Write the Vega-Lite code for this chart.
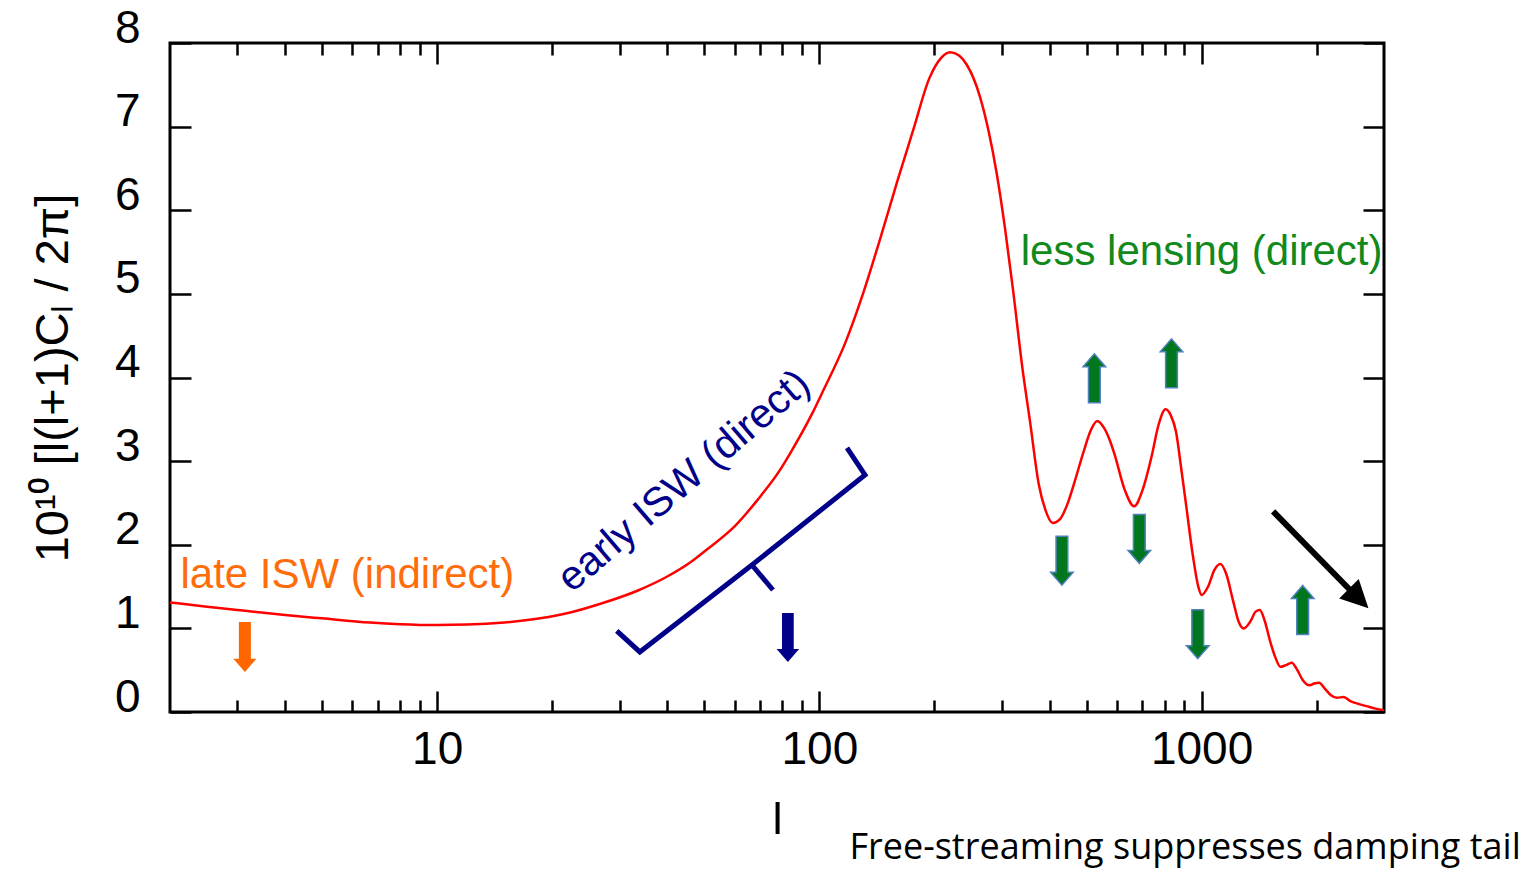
{
  "$schema": "https://vega.github.io/schema/vega-lite/v6.json",
  "width": 1214,
  "height": 669,
  "autosize": {"type": "none"},
  "padding": {"left": 170, "top": 43, "right": 153, "bottom": 160},
  "background": "white",
  "config": {
    "view": {"stroke": "black", "strokeWidth": 3},
    "axis": {"grid": false, "domain": false, "labelFont": "Liberation Sans", "titleFont": "Liberation Sans", "tickColor": "black", "labelColor": "black", "titleColor": "black", "tickWidth": 2.5, "titleFontWeight": "normal"}
  },
  "layer": [
    {
      "data": {"values": [
        {"l": 2, "v": 1.31}, {"l": 2.5, "v": 1.26}, {"l": 3, "v": 1.22}, {"l": 4, "v": 1.16}, {"l": 5, "v": 1.12},
        {"l": 6.67, "v": 1.07}, {"l": 8, "v": 1.05}, {"l": 10, "v": 1.04}, {"l": 12, "v": 1.045}, {"l": 15, "v": 1.07},
        {"l": 18.6, "v": 1.12}, {"l": 22.3, "v": 1.19}, {"l": 27, "v": 1.3}, {"l": 33.4, "v": 1.45}, {"l": 40, "v": 1.62},
        {"l": 46, "v": 1.79}, {"l": 51, "v": 1.95}, {"l": 60, "v": 2.22}, {"l": 69, "v": 2.54}, {"l": 78.5, "v": 2.88},
        {"l": 84, "v": 3.1}, {"l": 96, "v": 3.58}, {"l": 102, "v": 3.83}, {"l": 117, "v": 4.42}, {"l": 130, "v": 5.0},
        {"l": 144, "v": 5.65}, {"l": 160, "v": 6.35}, {"l": 176, "v": 6.96}, {"l": 194, "v": 7.58}, {"l": 208, "v": 7.82},
        {"l": 220, "v": 7.89}, {"l": 232, "v": 7.85}, {"l": 243, "v": 7.74}, {"l": 263, "v": 7.36}, {"l": 277, "v": 6.95},
        {"l": 291, "v": 6.44}, {"l": 306, "v": 5.78}, {"l": 321, "v": 5.05}, {"l": 340, "v": 4.1}, {"l": 356, "v": 3.46},
        {"l": 375, "v": 2.72}, {"l": 390, "v": 2.42}, {"l": 408, "v": 2.26}, {"l": 425, "v": 2.3}, {"l": 445, "v": 2.48},
        {"l": 465, "v": 2.75}, {"l": 491, "v": 3.11}, {"l": 512, "v": 3.36}, {"l": 533, "v": 3.48}, {"l": 555, "v": 3.4},
        {"l": 575, "v": 3.25}, {"l": 591, "v": 3.09}, {"l": 630, "v": 2.65}, {"l": 666, "v": 2.46}, {"l": 700, "v": 2.65},
        {"l": 741, "v": 3.07}, {"l": 770, "v": 3.42}, {"l": 805, "v": 3.62}, {"l": 830, "v": 3.55}, {"l": 857, "v": 3.35},
        {"l": 885, "v": 2.9}, {"l": 911, "v": 2.47}, {"l": 950, "v": 1.85}, {"l": 980, "v": 1.5}, {"l": 1000, "v": 1.4},
        {"l": 1040, "v": 1.5}, {"l": 1080, "v": 1.7}, {"l": 1120, "v": 1.77}, {"l": 1160, "v": 1.65}, {"l": 1210, "v": 1.32},
        {"l": 1250, "v": 1.08}, {"l": 1289, "v": 1.0}, {"l": 1340, "v": 1.08}, {"l": 1385, "v": 1.2}, {"l": 1420, "v": 1.22},
        {"l": 1460, "v": 1.1}, {"l": 1510, "v": 0.85}, {"l": 1560, "v": 0.65}, {"l": 1607, "v": 0.54}, {"l": 1660, "v": 0.56},
        {"l": 1721, "v": 0.59}, {"l": 1780, "v": 0.5}, {"l": 1840, "v": 0.38}, {"l": 1915, "v": 0.32}, {"l": 1970, "v": 0.34},
        {"l": 2029, "v": 0.35}, {"l": 2100, "v": 0.28}, {"l": 2180, "v": 0.2}, {"l": 2258, "v": 0.17}, {"l": 2353, "v": 0.18},
        {"l": 2450, "v": 0.13}, {"l": 2558, "v": 0.1}, {"l": 2700, "v": 0.07}, {"l": 2850, "v": 0.04}, {"l": 3000, "v": 0.02}
      ]},
      "mark": {"type": "line", "color": "#FF0000", "strokeWidth": 2.5, "interpolate": "monotone"},
      "encoding": {
        "x": {"field": "l", "type": "quantitative", "scale": {"type": "log", "domain": [2, 3000], "nice": false},
          "axis": {"orient": "bottom", "values": [10, 100, 1000], "format": "d", "ticks": false, "labelFontSize": 46, "labelPadding": 15, "title": "l", "titleFontSize": 45, "titleY": 121, "titleBaseline": "alphabetic"}},
        "y": {"field": "v", "type": "quantitative", "scale": {"domain": [0, 8], "nice": false},
          "axis": {"orient": "left", "values": [0, 1, 2, 3, 4, 5, 6, 7, 8], "format": "d", "ticks": false, "labelFontSize": 46, "labelPadding": 30, "labelOffset": -15, "title": "10¹⁰ [l(l+1)Cₗ / 2π]", "titleFontSize": 47, "titleX": -103, "titleBaseline": "alphabetic"}}
      }
    },
    {
      "data": {"values": [{"l": 3.14, "v": 0.778}]},
      "mark": {"type": "point", "shape": "M-0.24,-1L0.24,-1L0.24,0.47L0.46,0.47L0,1L-0.46,0.47L-0.24,0.47Z", "size": 2500, "filled": true, "fill": "#FF6600", "opacity": 1, "strokeWidth": 0},
      "encoding": {
        "x": {"field": "l", "type": "quantitative", "axis": {"orient": "bottom", "values": [10, 100, 1000], "tickSize": -21, "labels": false, "title": null}},
        "y": {"field": "v", "type": "quantitative", "axis": {"orient": "left", "values": [0, 1, 2, 3, 4, 5, 6, 7, 8], "tickSize": -21, "labels": false, "title": null}}
      }
    },
    {
      "data": {"values": [{"l": 5.82, "v": 1.48, "label": "late ISW (indirect)"}]},
      "mark": {"type": "text", "font": "Liberation Sans", "fontSize": 42, "color": "#FF6D0A", "align": "center", "baseline": "alphabetic"},
      "encoding": {
        "x": {"field": "l", "type": "quantitative", "axis": {"orient": "bottom", "values": [3, 4, 5, 6, 7, 8, 9, 20, 30, 40, 50, 60, 70, 80, 90, 200, 300, 400, 500, 600, 700, 800, 900, 2000], "tickSize": -12, "labels": false, "title": null}},
        "y": {"field": "v", "type": "quantitative", "axis": {"orient": "right", "values": [0, 1, 2, 3, 4, 5, 6, 7, 8], "tickSize": -21, "labels": false, "title": null}},
        "text": {"field": "label"}
      }
    },
    {
      "data": {"values": [{"l": 44.3, "v": 2.757, "label": "early ISW (direct)"}]},
      "mark": {"type": "text", "font": "Liberation Sans", "fontSize": 41, "color": "#000088", "align": "center", "baseline": "middle", "angle": 319.4},
      "encoding": {
        "x": {"field": "l", "type": "quantitative", "axis": {"orient": "top", "values": [10, 100, 1000], "tickSize": -21, "labels": false, "title": null}},
        "y": {"field": "v", "type": "quantitative", "axis": null},
        "text": {"field": "label"}
      }
    },
    {
      "data": {"values": [
        {"seg": "a", "i": 1, "l": 29.5, "v": 0.969},
        {"seg": "a", "i": 2, "l": 33.9, "v": 0.718},
        {"seg": "a", "i": 3, "l": 66.6, "v": 1.758},
        {"seg": "a", "i": 4, "l": 131.6, "v": 2.835},
        {"seg": "a", "i": 5, "l": 118.1, "v": 3.158},
        {"seg": "b", "i": 1, "l": 66.6, "v": 1.758},
        {"seg": "b", "i": 2, "l": 75.6, "v": 1.459}
      ]},
      "mark": {"type": "line", "color": "#000088", "strokeWidth": 5, "strokeJoin": "miter"},
      "encoding": {
        "x": {"field": "l", "type": "quantitative", "axis": {"orient": "top", "values": [3, 4, 5, 6, 7, 8, 9, 20, 30, 40, 50, 60, 70, 80, 90, 200, 300, 400, 500, 600, 700, 800, 900, 2000], "tickSize": -12, "labels": false, "title": null}},
        "y": {"field": "v", "type": "quantitative", "axis": null},
        "detail": {"field": "seg"},
        "order": {"field": "i", "type": "quantitative"}
      }
    },
    {
      "data": {"values": [{"l": 82.7, "v": 0.891}]},
      "mark": {"type": "point", "shape": "M-0.24,-1L0.24,-1L0.24,0.47L0.46,0.47L0,1L-0.46,0.47L-0.24,0.47Z", "size": 2400, "filled": true, "fill": "#000088", "opacity": 1, "strokeWidth": 0},
      "encoding": {
        "x": {"field": "l", "type": "quantitative", "axis": null},
        "y": {"field": "v", "type": "quantitative", "axis": null}
      }
    },
    {
      "data": {"values": [{"l": 1000, "v": 5.35, "label": "less lensing (direct)"}]},
      "mark": {"type": "text", "font": "Liberation Sans", "fontSize": 42, "color": "#11891B", "align": "center", "baseline": "alphabetic"},
      "encoding": {
        "x": {"field": "l", "type": "quantitative", "axis": null},
        "y": {"field": "v", "type": "quantitative", "axis": null},
        "text": {"field": "label"}
      }
    },
    {
      "data": {"values": [{"l": 431, "v": 1.81}, {"l": 687, "v": 2.07}, {"l": 977, "v": 0.93}]},
      "mark": {"type": "point", "shape": "M-0.24,-1L0.24,-1L0.24,0.47L0.46,0.47L0,1L-0.46,0.47L-0.24,0.47Z", "size": 2400, "filled": true, "fill": "#00771E", "stroke": "#4F81BD", "strokeWidth": 1.5, "opacity": 1},
      "encoding": {
        "x": {"field": "l", "type": "quantitative", "axis": null},
        "y": {"field": "v", "type": "quantitative", "axis": null}
      }
    },
    {
      "data": {"values": [{"l": 524, "v": 3.99}, {"l": 834, "v": 4.17}, {"l": 1838, "v": 1.22}]},
      "mark": {"type": "point", "shape": "M-0.24,1L0.24,1L0.24,-0.47L0.46,-0.47L0,-1L-0.46,-0.47L-0.24,-0.47Z", "size": 2400, "filled": true, "fill": "#00771E", "stroke": "#4F81BD", "strokeWidth": 1.5, "opacity": 1},
      "encoding": {
        "x": {"field": "l", "type": "quantitative", "axis": null},
        "y": {"field": "v", "type": "quantitative", "axis": null}
      }
    },
    {
      "data": {"values": [{"i": 1, "l": 1538, "v": 2.4}, {"i": 2, "l": 2475, "v": 1.435}]},
      "mark": {"type": "line", "color": "black", "strokeWidth": 6},
      "encoding": {
        "x": {"field": "l", "type": "quantitative", "axis": null},
        "y": {"field": "v", "type": "quantitative", "axis": null},
        "order": {"field": "i", "type": "quantitative"}
      }
    },
    {
      "data": {"values": [{"l": 2576, "v": 1.356}]},
      "mark": {"type": "point", "shape": "M-1,-1L1,0L-1,1Z", "size": 760, "angle": 45, "filled": true, "fill": "black", "opacity": 1, "strokeWidth": 0},
      "encoding": {
        "x": {"field": "l", "type": "quantitative", "axis": null},
        "y": {"field": "v", "type": "quantitative", "axis": null}
      }
    },
    {
      "data": {"values": [{"l": 905, "v": -1.758, "label": "Free-streaming suppresses damping tail"}]},
      "mark": {"type": "text", "font": "Open Sans", "fontSize": 36, "color": "black", "align": "center", "baseline": "alphabetic"},
      "encoding": {
        "x": {"field": "l", "type": "quantitative", "axis": null},
        "y": {"field": "v", "type": "quantitative", "axis": null},
        "text": {"field": "label"}
      }
    }
  ],
  "resolve": {"axis": {"x": "independent", "y": "independent"}}
}
